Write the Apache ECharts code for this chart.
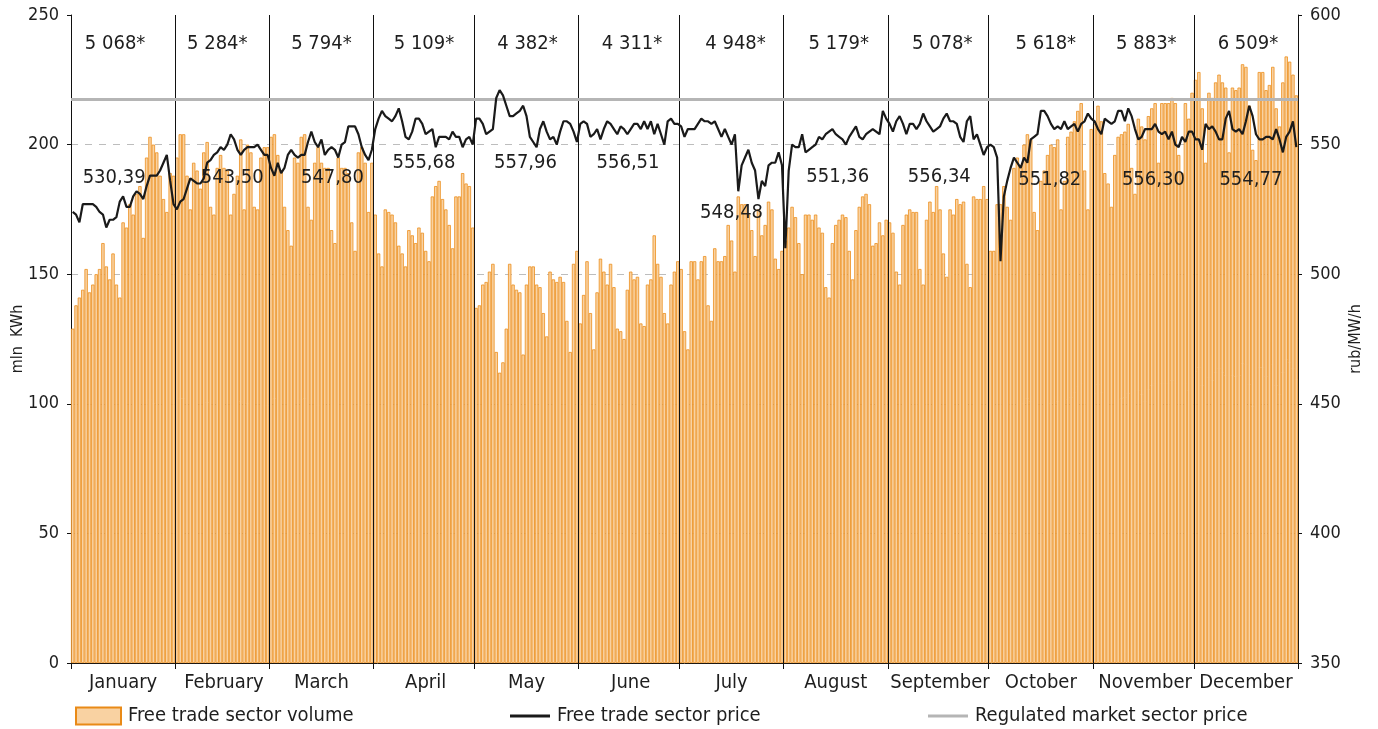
<!DOCTYPE html>
<html lang="en">
<head>
<meta charset="UTF-8">
<title>Free trade sector</title>
<script src="https://cdn.jsdelivr.net/npm/echarts@6/dist/echarts.min.js"></script>
<style>
  html, body { margin: 0; padding: 0; background: #fff; }
  #chart { width: 1378px; height: 729px; }
</style>
</head>
<body>
<div id="chart"></div>
<script>
// months and their length in days
var months = ['January', 'February', 'March', 'April', 'May', 'June', 'July',
              'August', 'September', 'October', 'November', 'December'];
var monthDays = [31, 28, 31, 30, 31, 30, 31, 31, 30, 31, 30, 31];

// monthly totals (mln KWh) and average price (rub/MW/h)
var monthVolume = [5068, 5284, 5794, 5109, 4382, 4311, 4948, 5179, 5078, 5618, 5883, 6509];
var monthAvgPrice = [530.39, 543.50, 547.80, 555.68, 557.96, 556.51, 548.48, 551.36, 556.34, 551.82, 556.30, 554.77];

var regulatedPrice = 567.5;

// daily free trade sector volume, mln KWh
var volJan = [129,138,141,144,152,143,146,150,152,162,153,148,158,146,141,170,168,177,173,181,184,164,195,203,200,197,188,179,174,189,188];
var volFeb = [195,204,204,188,175,193,190,183,197,201,176,173,191,196,191,190,173,181,188,202,175,200,197,176,175,195,199,199];
var volMar = [203,204,196,190,176,167,161,195,193,203,204,176,171,193,199,193,191,191,167,162,195,191,191,189,170,159,197,199,193,174,193];
var volApr = [173,158,153,175,174,173,170,161,158,153,167,165,162,168,166,159,155,180,184,186,179,175,169,160,180,180,189,185,184,168];
var volMay = [137,138,146,147,151,154,120,112,116,129,154,146,144,143,119,146,153,153,146,145,135,126,151,148,147,149,147,132,120,154,159];
var volJun = [131,142,155,135,121,143,156,151,146,154,145,129,128,125,144,151,148,149,131,130,146,148,165,154,149,135,131,146,151,155];
var volJul = [152,128,121,155,155,148,155,157,138,132,160,155,155,157,169,163,151,180,177,177,173,167,157,175,165,169,178,175,156,152,159];
var volAug = [163,168,176,172,162,150,173,173,171,173,168,166,145,141,162,169,171,173,172,159,148,167,176,180,181,177,161,162,170,165,171];
var volSep = [170,166,151,146,169,173,175,174,174,152,146,171,178,174,184,175,158,149,175,173,179,177,178,154,145,180,179,179,184,179];
var volOct = [159,159,177,177,184,176,171,191,195,192,200,204,202,174,167,186,190,196,200,199,202,175,186,203,205,209,213,216,190,175,206];
var volNov = [208,215,209,189,185,176,196,203,204,205,208,191,181,210,207,202,211,214,216,193,216,216,216,218,216,196,189,216,210,220];
var volDec = [225,228,214,193,220,218,224,227,224,222,197,222,221,222,231,230,215,198,194,228,228,221,223,230,214,207,224,234,232,227,219];

// daily free trade sector price, rub/MW/h
var priceJan = [524,523,520,527,527,527,527,526,524,523,518,521,521,522,528,530,526,526,530,532,531,529,534,538,538,538,540,543,546,536,527];
var priceFeb = [525,528,529,533,537,536,535,535,537,543,544,546,547,549,548,550,554,552,548,546,548,549,549,549,550,548,546,546];
var priceMar = [541,538,543,539,541,546,548,546,545,546,546,551,555,551,549,552,546,548,549,548,545,550,551,557,557,557,554,549,546,544,548];
var priceApr = [556,560,563,561,560,559,561,564,559,553,552,555,560,560,558,554,555,556,549,553,553,553,552,555,553,553,549,552,553,550];
var priceMay = [560,560,558,554,555,556,568,571,569,565,561,561,562,563,565,561,553,551,549,556,559,555,552,553,550,555,559,559,558,555,551];
var priceJun = [558,559,558,553,554,556,552,556,559,558,556,554,557,556,554,556,558,558,556,559,556,559,554,558,554,550,559,560,558,558];
var priceJul = [557,553,556,556,556,558,560,559,559,558,559,556,553,556,553,550,554,532,542,545,548,543,540,529,536,534,542,543,543,547,542];
var priceAug = [510,540,550,549,549,554,547,548,549,550,553,552,554,555,556,554,553,552,550,553,555,557,553,552,554,555,556,555,554,563,560];
var priceSep = [558,555,559,561,558,554,558,558,556,558,562,559,557,555,556,557,560,562,559,559,558,553,551,559,561,552,554,550,546,549];
var priceOct = [550,549,545,505,530,536,541,545,543,541,545,543,552,553,554,563,563,561,558,556,557,556,559,556,557,558,555,558,559,562,560];
var priceNov = [559,556,554,560,559,558,559,563,563,559,564,561,556,552,553,556,556,556,558,555,554,555,552,555,550,549,553,551,555,555];
var priceDec = [552,552,548,558,556,557,555,552,552,560,563,556,555,556,554,559,565,561,554,552,552,553,553,552,556,552,547,553,555,559,549];

// where the month texts sit: height in left axis units, horizontal nudge in px
var avgLabelLevel = [187, 187, 187, 193, 193, 193, 173.5, 187.4, 187.4, 186.6, 186.6, 186.6];
var avgLabelDx = [-9, 10, 11, 0, -1, -1, 0, 2, 1, 9, 10, 5];
var volLabelLevel = 239;
var volLabelDx = [-8, -5, 0, 0, 1, 3, 4, 3, 4, 5, 3, 2];

var volume = [].concat(volJan, volFeb, volMar, volApr, volMay, volJun, volJul, volAug, volSep, volOct, volNov, volDec);
var price = [].concat(priceJan, priceFeb, priceMar, priceApr, priceMay, priceJun, priceJul, priceAug, priceSep, priceOct, priceNov, priceDec);

var monthStart = [];
var monthOfDay = [];
var days = [];
var acc = 0;
monthDays.forEach(function (n, m) {
    monthStart.push(acc);
    for (var d = 1; d <= n; d++) {
        days.push(d + ' ' + months[m]);
        monthOfDay.push(m);
    }
    acc += n;
});
var totalDays = acc;

var startSet = {};
var midSet = {};
monthStart.forEach(function (s, m) {
    startSet[s] = true;
    midSet[s + Math.floor(monthDays[m] / 2)] = true;
});

var font = '"Liberation Sans Narrow", "DejaVu Sans Condensed", sans-serif';
var textColor = '#1e1e1e';

function fmtVolume(v) {
    var s = String(v);
    return s.slice(0, s.length - 3) + ' ' + s.slice(-3) + '*';
}
function fmtPrice(v) {
    return v.toFixed(2).replace('.', ',');
}

var volLabels = monthStart.map(function (s, m) {
    return {
        value: [s + monthDays[m] / 2, volLabelLevel],
        label: { offset: [volLabelDx[m], 0] }
    };
});
var avgLabels = monthStart.map(function (s, m) {
    return {
        value: [s + monthDays[m] / 2, avgLabelLevel[m]],
        label: { offset: [avgLabelDx[m], 0] }
    };
});
var boundaries = monthStart.slice(1).map(function (s) { return { xAxis: s }; });

var myChart = echarts.init(document.getElementById('chart'));

myChart.setOption({
    animation: false,
    textStyle: { fontFamily: font, color: textColor },
    grid: { left: 71, right: 80, top: 15, bottom: 66, containLabel: false, outerBoundsMode: 'none' },
    legend: [
        {
            left: 75, top: 706, padding: 0, icon: 'rect', itemWidth: 45, itemHeight: 17, itemGap: 0,
            itemStyle: { color: '#f9d2a2', borderColor: '#e98a17', borderWidth: 2 },
            textStyle: { fontFamily: font, fontSize: 20, color: textColor, padding: [0, 0, 0, 2] },
            data: ['Free trade sector volume']
        },
        {
            left: 510, top: 706, padding: 0, icon: 'rect', itemWidth: 40, itemHeight: 3,
            textStyle: { fontFamily: font, fontSize: 20, color: textColor, padding: [0, 0, 0, 2] },
            data: ['Free trade sector price']
        },
        {
            left: 928, top: 706, padding: 0, icon: 'rect', itemWidth: 40, itemHeight: 3,
            textStyle: { fontFamily: font, fontSize: 20, color: textColor, padding: [0, 0, 0, 2] },
            data: ['Regulated market sector price']
        }
    ],
    xAxis: [
        {
            type: 'category',
            data: days,
            boundaryGap: true,
            axisLine: { lineStyle: { color: '#111', width: 1 } },
            axisTick: {
                show: true, length: 6, lineStyle: { color: '#111' },
                interval: function (i) { return !!startSet[i]; }
            },
            axisLabel: {
                interval: function (i) { return !!midSet[i]; },
                formatter: function (v, i) { return months[monthOfDay[i]]; },
                fontFamily: font, fontSize: 20, color: textColor, margin: 10
            },
            splitLine: { show: false }
        },
        {
            type: 'value', min: 0, max: totalDays, show: false
        }
    ],
    yAxis: [
        {
            type: 'value', min: 0, max: 250, interval: 50,
            name: 'mln  KWh', nameLocation: 'middle', nameGap: 45, nameRotate: 90,
            nameMoveOverlap: false,
            nameTextStyle: { fontFamily: font, fontSize: 16, color: textColor },
            axisLine: { show: true, lineStyle: { color: '#111' } },
            axisTick: { show: true, length: 4, lineStyle: { color: '#111' } },
            axisLabel: { fontFamily: font, fontSize: 18, color: textColor, margin: 12 },
            splitLine: {
                show: true,
                lineStyle: {
                    type: [7, 7], width: 1,
                    color: ['rgba(0,0,0,0)', '#bdbdbd', '#bdbdbd', '#bdbdbd', '#bdbdbd', 'rgba(0,0,0,0)']
                }
            }
        },
        {
            type: 'value', min: 350, max: 600, interval: 50, position: 'right',
            name: 'rub/MW/h', nameLocation: 'middle', nameGap: 50, nameRotate: 90,
            nameMoveOverlap: false,
            nameTextStyle: { fontFamily: font, fontSize: 16, color: textColor },
            axisLine: { show: true, lineStyle: { color: '#111' } },
            axisTick: { show: true, length: 4, lineStyle: { color: '#111' } },
            axisLabel: { fontFamily: font, fontSize: 18, color: textColor, margin: 12 },
            splitLine: { show: false }
        }
    ],
    series: [
        {
            name: 'Free trade sector volume',
            type: 'bar',
            data: volume,
            barCategoryGap: '0%',
            itemStyle: { color: '#f9d2a2', borderColor: '#ec8f1e', borderWidth: 0.8 },
            z: 2
        },
        {
            name: 'monthLines',
            type: 'line',
            xAxisIndex: 1,
            yAxisIndex: 0,
            data: [],
            z: 3,
            markLine: {
                silent: true, symbol: 'none', animation: false,
                label: { show: false },
                lineStyle: { color: '#111', width: 1, type: 'solid' },
                data: boundaries
            }
        },
        {
            name: 'Regulated market sector price',
            type: 'line',
            yAxisIndex: 1,
            data: [],
            color: '#b5b5b5',
            z: 4,
            markLine: {
                silent: true, symbol: 'none', animation: false,
                label: { show: false },
                lineStyle: { color: '#b5b5b5', width: 3, type: 'solid' },
                data: [{ yAxis: regulatedPrice }]
            }
        },
        {
            name: 'Free trade sector price',
            type: 'line',
            yAxisIndex: 1,
            data: price,
            color: '#1a1a1a',
            showSymbol: false,
            symbol: 'none',
            lineStyle: { color: '#1a1a1a', width: 2.2 },
            z: 5
        },
        {
            name: 'volLabels',
            type: 'scatter',
            xAxisIndex: 1,
            yAxisIndex: 0,
            symbolSize: 0,
            silent: true,
            z: 6,
            itemStyle: { opacity: 1 },
            data: volLabels,
            label: {
                show: true, position: 'inside',
                fontFamily: font, fontSize: 20, color: textColor,
                formatter: function (p) { return fmtVolume(monthVolume[p.dataIndex]); }
            }
        },
        {
            name: 'avgLabels',
            type: 'scatter',
            xAxisIndex: 1,
            yAxisIndex: 0,
            symbolSize: 0,
            silent: true,
            z: 6,
            itemStyle: { opacity: 1 },
            data: avgLabels,
            label: {
                show: true, position: 'inside',
                fontFamily: font, fontSize: 20, color: textColor,
                formatter: function (p) { return fmtPrice(monthAvgPrice[p.dataIndex]); }
            }
        }
    ]
});
</script>
</body>
</html>
